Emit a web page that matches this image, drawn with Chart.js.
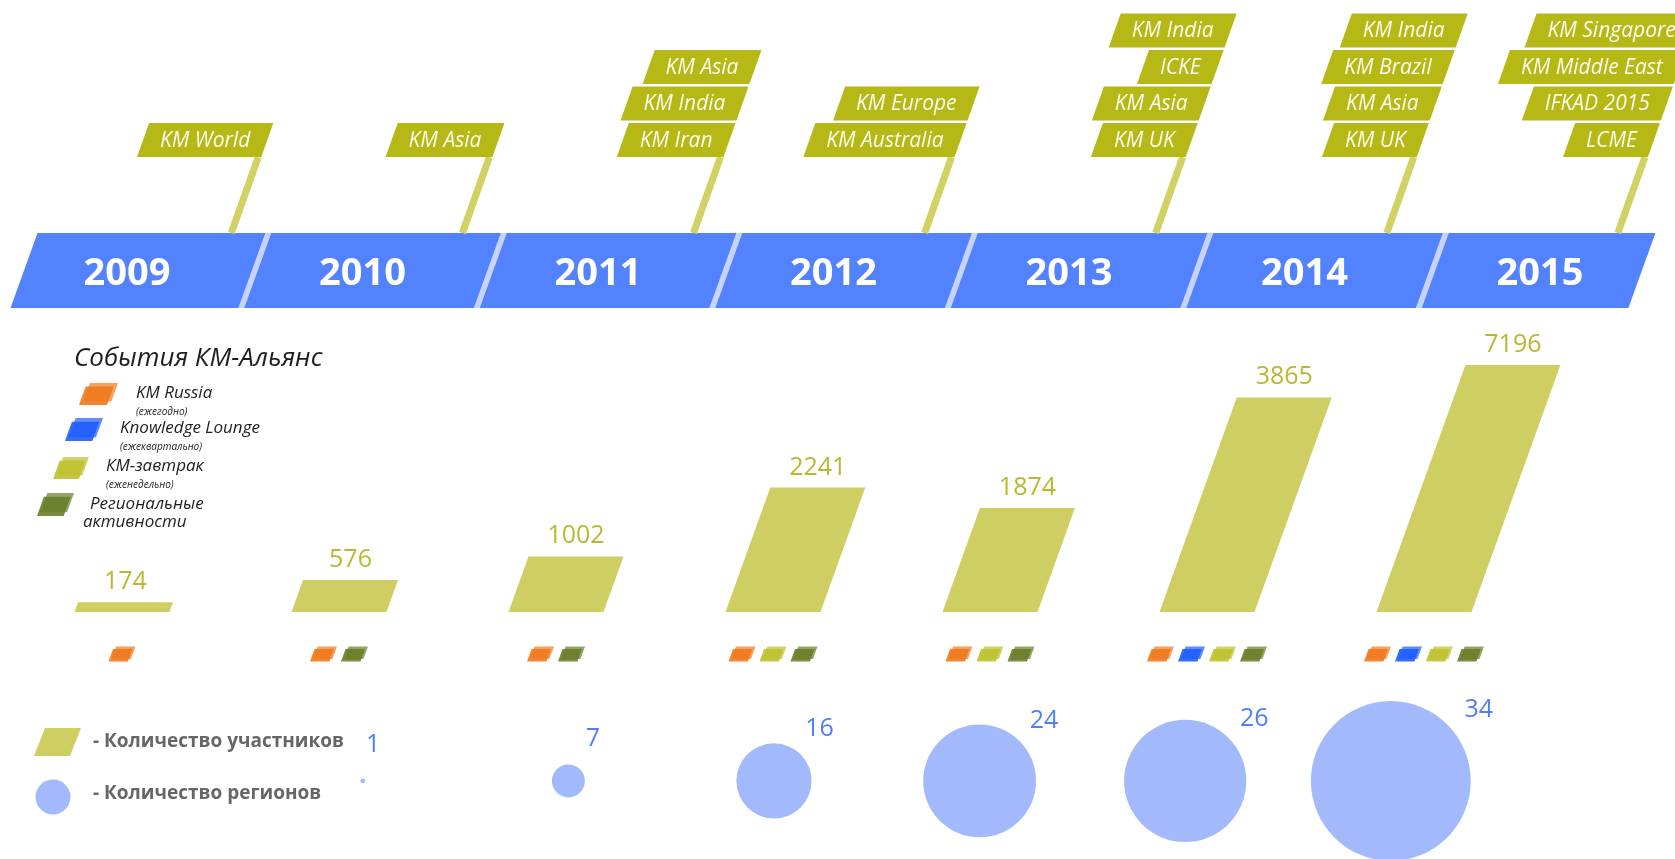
<!DOCTYPE html>
<html><head><meta charset="utf-8">
<script src="https://cdn.jsdelivr.net/npm/chart.js@4"></script>
<style>html,body{margin:0;padding:0;background:#fff;overflow:hidden}canvas{display:block}</style>
</head><body>
<canvas id="c" width="1675" height="859"></canvas>
<script>
// ---------------- DATA ----------------
const years = ['2009','2010','2011','2012','2013','2014','2015'];
const participants = [174, 576, 1002, 2241, 1874, 3865, 7196];
const regions = [null, 1, 7, 16, 24, 26, 34];
// conferences per year (top to bottom)
const conferences = [
  ['KM World'],
  ['KM Asia'],
  ['KM Asia', 'KM India', 'KM Iran'],
  ['KM Europe', 'KM Australia'],
  ['KM India', 'ICKE', 'KM Asia', 'KM UK'],
  ['KM India', 'KM Brazil', 'KM Asia', 'KM UK'],
  ['KM Singapore', 'KM Middle East', 'IFKAD 2015', 'LCME']
];
// event formats held per year (1 = held)
const kmRussia        = [1, 1, 1, 1, 1, 1, 1];
const knowledgeLounge = [0, 0, 0, 0, 0, 1, 1];
const kmBreakfast     = [0, 0, 0, 1, 1, 1, 1];
const regionalEvents  = [0, 1, 1, 1, 1, 1, 1];

const eventTypes = [
  {name: ['KM Russia'], note: '(ежегодно)', color: '#ef7a1e', held: kmRussia},
  {name: ['Knowledge Lounge'], note: '(ежеквартально)', color: '#1f5dfd', held: knowledgeLounge},
  {name: ['КМ-завтрак'], note: '(еженедельно)', color: '#bec22f', held: kmBreakfast},
  {name: ['Региональные', 'активности'], note: '', color: '#6a7e2a', held: regionalEvents}
];
const legendTitle = 'События КМ-Альянс';
const participantsLabel = '- Количество участников';
const regionsLabel = '- Количество регионов';

// ---------------- STYLE ----------------
const FONT = '"Open Sans", "Noto Sans", sans-serif';
const SLANT = 0.36;
const BAR_COLOR = '#cece62', BAR_TEXT = '#b8b92e';
const BUBBLE_COLOR = '#a2b9fc', BUBBLE_TEXT = '#4f7ff6';
const BAND_COLOR = '#5282fd', SEP_COLOR = '#c6d4fc';
const FLAG_COLOR = '#b6b816', POLE_COLOR = '#d1d164';

function para(ctx, xBL, yB, w, h, s) {
  ctx.beginPath();
  ctx.moveTo(xBL, yB);
  ctx.lineTo(xBL + w, yB);
  ctx.lineTo(xBL + w + s, yB - h);
  ctx.lineTo(xBL + s, yB - h);
  ctx.closePath();
  ctx.fill();
}
function eventIcon(ctx, x, y, w, h, color) {
  const ph = h * 0.84, s = ph * 0.36, pw = w * 0.72;
  ctx.save();
  ctx.fillStyle = color;
  ctx.globalAlpha = 0.7;
  para(ctx, x + w - pw - s, y + ph, pw, ph, s);
  ctx.globalAlpha = 0.9;
  para(ctx, x, y + h, pw, ph, s);
  ctx.restore();
}

const timelinePlugin = {
  id: 'timeline',
  afterDraw(chart) {
    const ctx = chart.ctx, xt = chart.scales.xt, xf = chart.scales.xf;
    const top = 233, bot = 308, d = (bot - top) * SLANT;
    ctx.save();
    // band
    const x0 = xt.getPixelForValue(-0.38), x1 = xt.getPixelForValue(years.length - 0.51);
    ctx.fillStyle = BAND_COLOR;
    para(ctx, x0 - d, bot, x1 - x0, bot - top, d);
    ctx.fillStyle = SEP_COLOR;
    for (let i = 0; i < years.length - 1; i++) {
      const xs = xt.getPixelForValue(i + 0.6);
      para(ctx, xs - 3 - d, bot, 6, bot - top, d);
    }
    ctx.fillStyle = '#fff';
    ctx.font = 'bold 38px ' + FONT;
    ctx.textAlign = 'center'; ctx.textBaseline = 'middle';
    years.forEach((y, i) => ctx.fillText(y, xt.getPixelForValue(i), 274));

    // flags
    const flagH = 34, pitch = 36.5, firstBottom = 157;
    ctx.font = 'italic 21px ' + FONT;
    conferences.forEach((list, i) => {
      const xp = xf.getPixelForValue(i);
      ctx.strokeStyle = POLE_COLOR; ctx.lineWidth = 7;
      ctx.beginPath();
      ctx.moveTo(xp, top);
      ctx.lineTo(xp + (top - firstBottom) * 0.355, firstBottom);
      ctx.stroke();
      const n = list.length;
      for (let k = 0; k < n; k++) {
        const label = list[n - 1 - k];
        const yb = firstBottom - pitch * k;
        const xr = xp + (top - yb) * 0.355 + 3;
        const w = ctx.measureText(label).width + 34;
        ctx.fillStyle = FLAG_COLOR;
        para(ctx, xr - w, yb, w, flagH, flagH * 0.355);
        ctx.fillStyle = '#fbfbef';
        ctx.fillText(label, xr - w / 2 + 6, yb - flagH / 2 + 1);
      }
    });
    ctx.restore();
  }
};

const barsPlugin = {
  id: 'paraBars',
  afterDatasetsDraw(chart) {
    const ctx = chart.ctx, ca = chart.chartArea;
    const meta = chart.getDatasetMeta(0);
    ctx.save();
    meta.data.forEach((el, i) => {
      const p = el.getProps(['x', 'y', 'base', 'width'], true);
      const topY = Math.max(p.y, ca.top);
      const h = p.base - topY, s = h * SLANT;
      ctx.fillStyle = BAR_COLOR;
      para(ctx, p.x - p.width / 2, p.base, p.width, h, s);
      ctx.fillStyle = BAR_TEXT;
      ctx.font = '25px ' + FONT;
      ctx.textAlign = 'center'; ctx.textBaseline = 'alphabetic';
      ctx.fillText(String(participants[i]), p.x + s, topY - 13);
    });
    // event markers
    const xs = chart.scales.x, y2 = chart.scales.y2;
    const rowY = y2.getPixelForValue(2.57);
    years.forEach((yr, i) => {
      const held = eventTypes.filter(e => e.held[i]);
      held.forEach((e, j) => {
        const cx = xs.getPixelForValue(i) + (j - (held.length - 1) / 2) * 31;
        eventIcon(ctx, cx - 13.5, rowY - 7.5, 27, 15, e.color);
      });
    });
    // bubble labels
    const bmeta = chart.getDatasetMeta(1);
    ctx.fillStyle = BUBBLE_TEXT;
    ctx.font = '25px ' + FONT;
    ctx.textAlign = 'center'; ctx.textBaseline = 'middle';
    bmeta.data.forEach((el, k) => {
      const raw = bubbleData[k];
      const r = raw.r;
      ctx.fillText(String(raw.v), el.x + r + 8, el.y - (35 + 0.45 * r));
    });
    ctx.restore();
  }
};

const legendPlugin = {
  id: 'customLegend',
  afterDraw(chart) {
    const ctx = chart.ctx;
    ctx.save();
    ctx.textAlign = 'left'; ctx.textBaseline = 'middle';
    ctx.fillStyle = '#1e1e1e';
    ctx.font = 'italic 26px ' + FONT;
    ctx.fillText(legendTitle, 74, 359);
    const icons = [[79, 383, 39, 22], [65, 418, 38, 23], [53, 457, 36, 22], [37, 493, 37, 23]];
    const textX = [136, 120, 106, 90];
    const textY = [393, 428, 466, 504];
    eventTypes.forEach((e, i) => {
      const b = icons[i];
      eventIcon(ctx, b[0], b[1], b[2], b[3], e.color);
      ctx.fillStyle = '#1e1e1e';
      ctx.font = 'italic 17px ' + FONT;
      ctx.fillText(e.name[0], textX[i], textY[i]);
      if (e.name[1]) ctx.fillText(e.name[1], textX[i] - 7, textY[i] + 18);
      if (e.note) {
        ctx.font = 'italic 10px ' + FONT;
        ctx.fillText(e.note, textX[i], textY[i] + 19);
      }
    });
    // bottom legend
    ctx.fillStyle = BAR_COLOR;
    para(ctx, 34, 756, 36, 28, 11);
    ctx.fillStyle = BUBBLE_COLOR;
    ctx.beginPath(); ctx.arc(53, 797, 17.5, 0, Math.PI * 2); ctx.fill();
    ctx.fillStyle = '#666';
    ctx.font = 'bold 19px ' + FONT;
    ctx.fillText(participantsLabel, 93, 742);
    ctx.fillText(regionsLabel, 93, 794);
    ctx.restore();
  }
};

const bubbleData = [];
regions.forEach((v, i) => { if (v != null) bubbleData.push({x: i, y: 0, r: v * 2.35, v: v}); });

new Chart(document.getElementById('c'), {
  type: 'bar',
  data: {
    datasets: [
      {
        type: 'bar', label: 'Количество участников',
        data: participants.map((v, i) => ({x: i, y: v})),
        backgroundColor: 'rgba(0,0,0,0)', borderWidth: 0,
        barThickness: 95, grouped: false, xAxisID: 'x', yAxisID: 'y'
      },
      {
        type: 'bubble', label: 'Количество регионов',
        data: bubbleData,
        backgroundColor: BUBBLE_COLOR, borderWidth: 0, hoverRadius: 0,
        xAxisID: 'xb', yAxisID: 'y2', clip: false
      }
    ]
  },
  options: {
    responsive: false, devicePixelRatio: 1, animation: false, events: [],
    layout: {autoPadding: false, padding: {top: 365, left: 0, right: 0, bottom: 0}},
    plugins: {legend: {display: false}, tooltip: {enabled: false}, title: {display: false}},
    scales: {
      x:  {type: 'linear', offset: false, min: -0.5622, max: 7.1567, display: false, bounds: 'data'},
      xb: {type: 'linear', axis: 'x', offset: false, min: -0.7646, max: 7.3823, display: false, bounds: 'data'},
      xt: {type: 'linear', axis: 'x', offset: false, min: -0.5393, max: 6.5732, display: false, bounds: 'data'},
      xf: {type: 'linear', axis: 'x', offset: false, min: -1.0009, max: 6.2471, display: false, bounds: 'data'},
      y:  {type: 'linear', min: -4450, max: 4450, display: false, bounds: 'data'},
      y2: {type: 'linear', axis: 'y', min: -1.58, max: 8.42, display: false, bounds: 'data'}
    }
  },
  plugins: [timelinePlugin, barsPlugin, legendPlugin]
});
</script>
</body></html>
